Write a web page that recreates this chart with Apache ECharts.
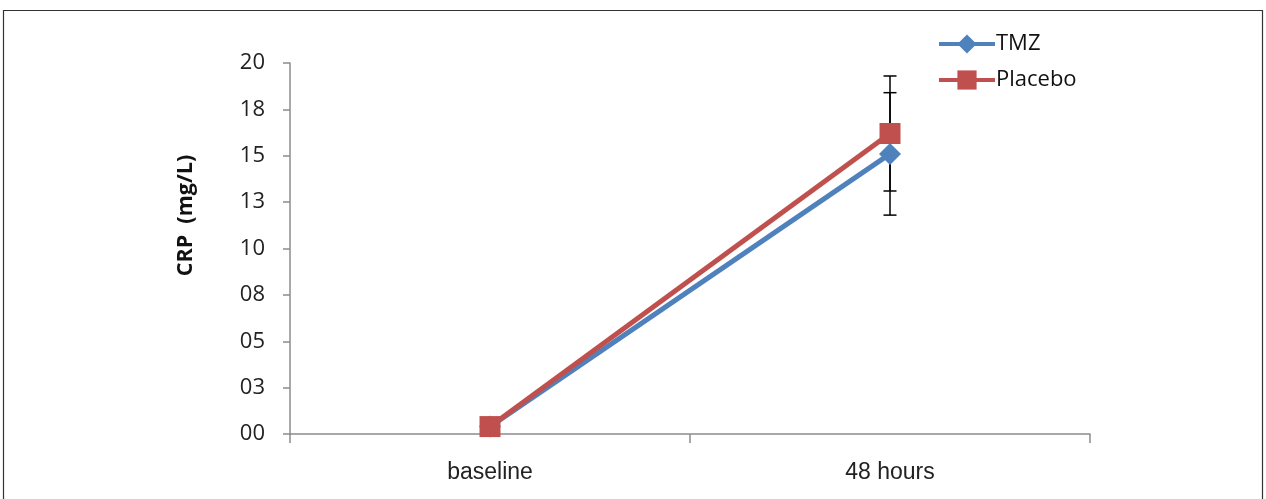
<!DOCTYPE html>
<html><head><meta charset="utf-8">
<script src="https://cdn.jsdelivr.net/npm/echarts@6/dist/echarts.min.js"></script>
<style>html,body{margin:0;padding:0;background:#fff}#c{width:1266px;height:499px}</style>
</head><body><div id="c"></div>
<script>
var categories = ['baseline', '48 hours'];
var tmzValues = [0.4, 15.1];
var tmzErr = [0, 3.3];
var placeboValues = [0.4, 16.2];
var placeboErr = [0, 3.1];
var yTickLabels = ['00','03','05','08','10','13','15','18','20'];

var chart = echarts.init(document.getElementById('c'));
var font = '"Open Sans", Lato, sans-serif';

function errData(vals, errs) {
  var out = [];
  for (var i = 0; i < vals.length; i++) {
    if (errs[i] > 0) out.push([i, vals[i] - errs[i], vals[i] + errs[i]]);
  }
  return out;
}
function renderErr(params, api) {
  var x = api.value(0);
  var lo = api.coord([x, api.value(1)]);
  var hi = api.coord([x, api.value(2)]);
  var hw = 6.5;
  var st = {stroke: '#000', lineWidth: 1.5};
  return {type: 'group', children: [
    {type: 'line', shape: {x1: lo[0], y1: lo[1], x2: hi[0], y2: hi[1]}, style: st},
    {type: 'line', shape: {x1: lo[0]-hw, y1: lo[1], x2: lo[0]+hw, y2: lo[1]}, style: st},
    {type: 'line', shape: {x1: hi[0]-hw, y1: hi[1], x2: hi[0]+hw, y2: hi[1]}, style: st}
  ]};
}

chart.setOption({
  animation: false,
  backgroundColor: '#fff',
  graphic: [{type: 'rect', shape: {x: 3.5, y: 10.5, width: 1259, height: 500}, style: {fill: 'none', stroke: '#333', lineWidth: 1.2}, z: -1}],
  grid: {left: 290, right: 176, top: 63, bottom: 65},
  legend: {
    orient: 'vertical', left: 932, top: 28, itemGap: 14, itemWidth: 56, itemHeight: 24,
    lineStyle: {width: 4},
    textStyle: {fontFamily: font, fontSize: 22, color: '#111', padding: [0,0,0,-4]},
    data: [{name: 'TMZ'}, {name: 'Placebo'}]
  },
  xAxis: {
    type: 'category', data: categories, boundaryGap: true,
    axisLine: {lineStyle: {color: '#8c8c8c', width: 1.5}},
    axisTick: {show: true, length: 9, lineStyle: {color: '#8c8c8c', width: 1.5}},
    axisLabel: {fontFamily: '"Liberation Sans", Arial, sans-serif', fontSize: 23, color: '#222', margin: 27}
  },
  yAxis: {
    type: 'value', min: 0, max: 20, interval: 2.5,
    name: 'CRP  (mg/L)', nameLocation: 'middle', nameGap: 93,
    nameTextStyle: {fontFamily: font, fontSize: 21.5, fontWeight: 'bold', color: '#111', padding: [0,0,0,66]},
    axisLine: {show: true, lineStyle: {color: '#8c8c8c', width: 1.5}},
    axisTick: {show: true, length: 7, lineStyle: {color: '#8c8c8c', width: 1.5}},
    splitLine: {show: false},
    axisLabel: {fontFamily: font, fontSize: 22, color: '#222', margin: 25,
      formatter: function (v) { return yTickLabels[Math.round(v / 2.5)]; }}
  },
  series: [
    {name: 'TMZ', type: 'line', data: tmzValues, symbol: 'diamond', symbolSize: 22,
     lineStyle: {color: '#4F81BD', width: 5}, itemStyle: {color: '#4F81BD'}, z: 3},
    {name: 'Placebo', type: 'line', data: placeboValues, symbol: 'rect', symbolSize: 21,
     lineStyle: {color: '#C0504D', width: 5}, itemStyle: {color: '#C0504D'}, z: 4},
    {type: 'custom', renderItem: renderErr, data: errData(tmzValues, tmzErr), z: 2, silent: true},
    {type: 'custom', renderItem: renderErr, data: errData(placeboValues, placeboErr), z: 2, silent: true}
  ]
});
</script></body></html>
